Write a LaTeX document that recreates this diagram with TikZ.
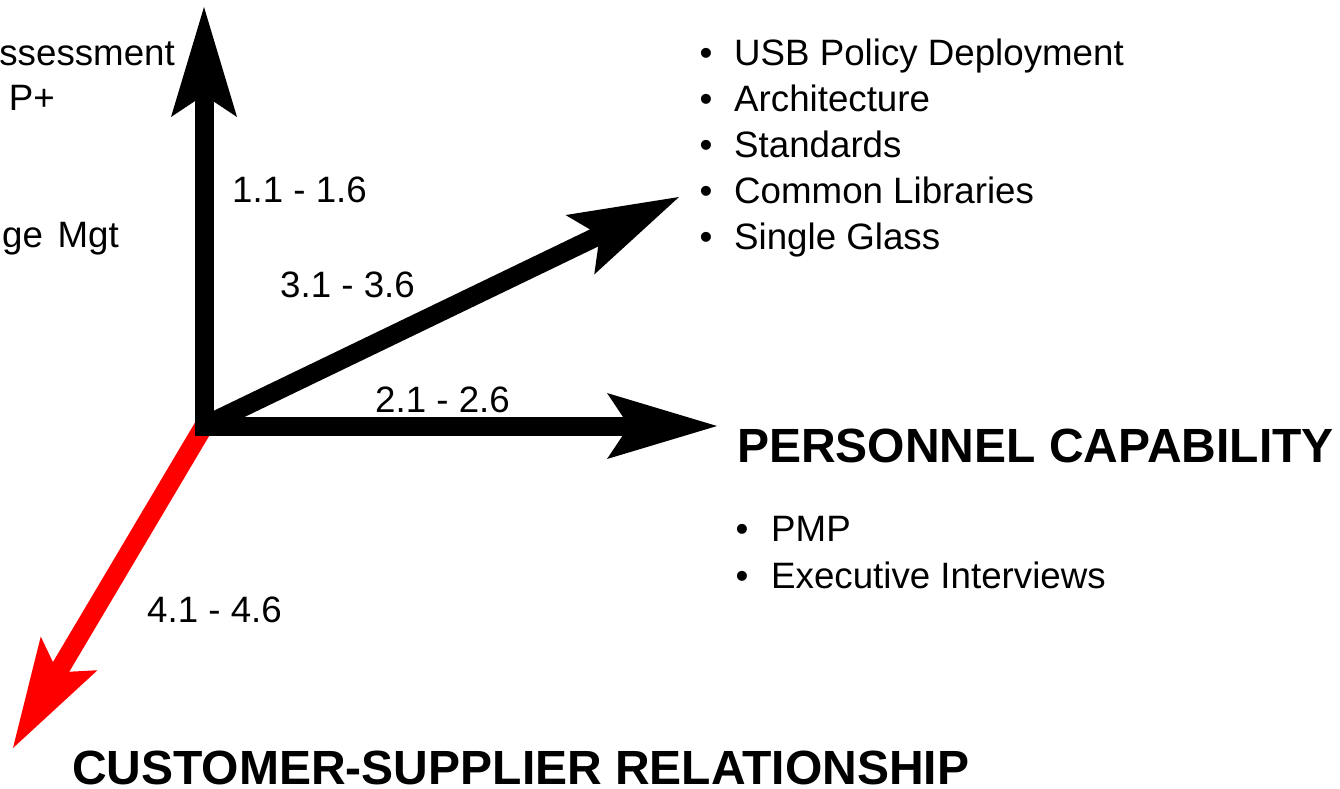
\documentclass[tikz,border=0pt]{standalone}
\usepackage{fontspec}
\setmainfont{Liberation Sans}
\usetikzlibrary{arrows.meta}
\begin{document}
\begin{tikzpicture}[x=1pt,y=-1pt,
  axis/.style={line width=19pt, -{Stealth[length=110pt,width=66pt,inset=22pt,line width=0pt 0]}},
  lbl/.style={inner sep=0pt, anchor=base west, font=\fontsize{36.7pt}{44pt}\selectfont},
  lble/.style={inner sep=0pt, anchor=base east, font=\fontsize{36.7pt}{44pt}\selectfont},
  ttl/.style={inner sep=0pt, anchor=base west, font=\fontsize{48pt}{56pt}\selectfont\bfseries},
  bul/.style={inner sep=0pt, anchor=base, font=\fontsize{36.7pt}{44pt}\selectfont}]
\useasboundingbox (0,0) rectangle (1340,788);
\fill[white] (0,0) rectangle (1340,788);
% axes
\coordinate (O) at (204,426);
\coordinate (Ov) at (204,435);
\coordinate (Oh) at (195,426);
\coordinate (tV) at (204,7);
\coordinate (tH) at (717,426);
\coordinate (tD) at (679,197);
\coordinate (tR) at (13,748);
\draw[axis, red] (O) -- (tR);
\draw[axis] (O) -- (tD);
\draw[axis] (Ov) -- (tV);
\draw[axis] (Oh) -- (tH);
% axis labels
\node[lbl] (l1) at (232,202) {1.1 - 1.6};
\node[lbl] (l3) at (280,297) {3.1 - 3.6};
\node[lbl] (l2) at (375,412) {2.1 - 2.6};
\node[lbl] (l4) at (147,622) {4.1 - 4.6};
% left (cut) text
\node[lble] (c1) at (175,65) {ssessment};
\node[lble] (c2) at (55,110) {P+};
\node[lble] (c3) at (119,247) {ge\hspace{4.5pt} Mgt};
% top-right list
\node[bul] (b1) at (706,65) {•};
\node[lbl] (t1) at (734,65) {USB Policy Deployment};
\node[bul] (b2) at (706,111) {•};
\node[lbl] (t2) at (734,111) {Architecture};
\node[bul] (b3) at (706,157) {•};
\node[lbl] (t3) at (734,157) {Standards};
\node[bul] (b4) at (706,203) {•};
\node[lbl] (t4) at (734,203) {Common Libraries};
\node[bul] (b5) at (706,249) {•};
\node[lbl] (t5) at (734,249) {Single Glass};
% personnel capability
\node[ttl] (pc) at (737,462) {PERSONNEL CAPABILITY};
\node[bul] (b6) at (742,541) {•};
\node[lbl] (p1) at (771,541) {PMP};
\node[bul] (b7) at (742,588) {•};
\node[lbl] (p2) at (771,588) {Executive Interviews};
% customer-supplier
\node[ttl] (cs) at (72,784) {CUSTOMER-SUPPLIER RELATIONSHIP};
\end{tikzpicture}
\end{document}
